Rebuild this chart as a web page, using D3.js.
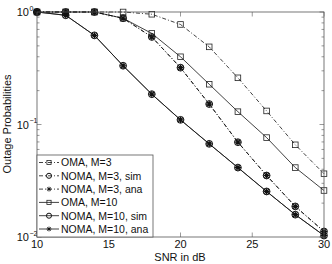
<!DOCTYPE html>
<html>
<head>
<meta charset="utf-8">
<script src="https://cdn.jsdelivr.net/npm/d3@7"></script>
<style>
  body { margin: 0; background: #fff; }
  svg { font-family: "Liberation Sans", Arial, sans-serif; }
</style>
</head>
<body>
<svg id="chart" width="332" height="264"></svg>
<script>
// values
const snr = [10, 12, 14, 16, 18, 20, 22, 24, 26, 28, 30];
const omaM3 = [1, 1, 1, 1, 0.955, 0.775, 0.49, 0.26, 0.132, 0.066, 0.0365];
const nomaM3Sim = [1, 1, 1, 0.88, 0.60, 0.32, 0.152, 0.0696, 0.0352, 0.0187, 0.0112];
const nomaM3Ana = [1, 1, 1, 0.88, 0.60, 0.32, 0.152, 0.0696, 0.0352, 0.0187, 0.0112];
const omaM10 = [1, 1, 1, 0.88, 0.645, 0.40, 0.228, 0.13, 0.0765, 0.0414, 0.0259];
const nomaM10Sim = [1, 0.935, 0.62, 0.333, 0.186, 0.11, 0.0673, 0.0414, 0.0254, 0.0158, 0.0103];
const nomaM10Ana = [1, 0.935, 0.62, 0.333, 0.186, 0.11, 0.0673, 0.0414, 0.0254, 0.0158, 0.0103];

const xTicks = [10, 15, 20, 25, 30];
const yMajor = [1, 0.1, 0.01];
const yExp = ["0", "\u22121", "\u22122"];

const series = [
  {name: "OMA, M=3", vals: omaM3, dash: "4,2,1,2", mark: "square"},
  {name: "NOMA, M=3, sim", vals: nomaM3Sim, dash: "4,2,1,2", mark: "circle"},
  {name: "NOMA, M=3, ana", vals: nomaM3Ana, dash: "4,2,1,2", mark: "star"},
  {name: "OMA, M=10", vals: omaM10, dash: null, mark: "square"},
  {name: "NOMA, M=10, sim", vals: nomaM10Sim, dash: null, mark: "circle"},
  {name: "NOMA, M=10, ana", vals: nomaM10Ana, dash: null, mark: "star"}
];

const svg = d3.select("#chart");
const pL = 37, pR = 324, pT = 12, pB = 237;
const axisColor = "#555";

const x = d3.scaleLinear().domain([10, 30]).range([pL, pR]);
const y = d3.scaleLog().domain([0.01, 1]).range([pB, pT]);

// minor y ticks
const yMinor = [];
[0.01, 0.1].forEach(d => { for (let k = 2; k <= 9; k++) yMinor.push(d * k); });

const ticks = svg.append("g").attr("stroke", axisColor).attr("stroke-width", 0.6);
yMinor.forEach(v => {
  ticks.append("line").attr("x1", pL).attr("x2", pL + 2.5).attr("y1", y(v)).attr("y2", y(v));
  ticks.append("line").attr("x1", pR).attr("x2", pR - 2.5).attr("y1", y(v)).attr("y2", y(v));
});
yMajor.forEach(v => {
  ticks.append("line").attr("x1", pL).attr("x2", pL + 4.5).attr("y1", y(v)).attr("y2", y(v));
  ticks.append("line").attr("x1", pR).attr("x2", pR - 4.5).attr("y1", y(v)).attr("y2", y(v));
});
xTicks.forEach(v => {
  ticks.append("line").attr("x1", x(v)).attr("x2", x(v)).attr("y1", pB).attr("y2", pB - 4.5);
  ticks.append("line").attr("x1", x(v)).attr("x2", x(v)).attr("y1", pT).attr("y2", pT + 4.5);
});

// lines
const line = d3.line().x((d, i) => x(snr[i])).y(d => y(d));
const plot = svg.append("g");
series.forEach(s => {
  plot.append("path")
    .attr("d", line(s.vals))
    .attr("fill", "none")
    .attr("stroke", "#111")
    .attr("stroke-width", 0.8)
    .attr("stroke-dasharray", s.dash);
});

// sc scales the marker (legend uses smaller ones)
const drawMark = (g, kind, cx, cy, sc) => {
  if (kind === "square") {
    const h = 2.8 * sc;
    g.append("rect").attr("x", cx - h).attr("y", cy - h).attr("width", 2 * h).attr("height", 2 * h)
      .attr("fill", "none").attr("stroke", "#222").attr("stroke-width", 0.8);
  } else if (kind === "circle") {
    g.append("circle").attr("cx", cx).attr("cy", cy).attr("r", 3.4 * sc)
      .attr("fill", "none").attr("stroke", "#111").attr("stroke-width", 1);
  } else {
    const r = 3.2 * sc, q = 2.3 * sc;
    g.append("path")
      .attr("d", `M${cx - r},${cy}L${cx + r},${cy}M${cx},${cy - r}L${cx},${cy + r}` +
        `M${cx - q},${cy - q}L${cx + q},${cy + q}M${cx - q},${cy + q}L${cx + q},${cy - q}`)
      .attr("stroke", "#111").attr("stroke-width", 1.2 * sc);
  }
};

series.forEach(s => {
  s.vals.forEach((v, i) => drawMark(plot, s.mark, x(snr[i]), y(v), 1));
});

// axis box
svg.append("rect").attr("x", pL).attr("y", pT).attr("width", pR - pL).attr("height", pB - pT)
  .attr("fill", "none").attr("stroke", axisColor).attr("stroke-width", 0.8);

// tick labels
svg.append("g").selectAll("text").data(xTicks).join("text")
  .attr("x", d => x(d)).attr("y", 248)
  .attr("text-anchor", "middle").attr("font-size", 11).attr("fill", "#111")
  .text(d => d);

const yl = svg.append("g");
yMajor.forEach((v, i) => {
  yl.append("text").attr("x", 29).attr("y", y(v) + 4)
    .attr("text-anchor", "end").attr("font-size", 11).attr("fill", "#111").text("10");
  yl.append("text").attr("x", 29.5).attr("y", y(v) - 1.5)
    .attr("font-size", 7).attr("fill", "#111").text(yExp[i]);
});

svg.append("text").attr("x", 180).attr("y", 261).attr("text-anchor", "middle")
  .attr("font-size", 11).attr("fill", "#111").text("SNR in dB");
svg.append("text").attr("transform", "translate(11,124) rotate(-90)").attr("text-anchor", "middle")
  .attr("font-size", 11).attr("fill", "#111").text("Outage Probabilities");

// legend
const lg = svg.append("g");
lg.append("rect").attr("x", pL).attr("y", 155).attr("width", 116).attr("height", pB - 155)
  .attr("fill", "#fff").attr("stroke", axisColor).attr("stroke-width", 0.8);
series.forEach((s, i) => {
  const ly = 162.5 + i * 13.3;
  lg.append("line").attr("x1", 39).attr("x2", 59).attr("y1", ly).attr("y2", ly)
    .attr("stroke", "#111").attr("stroke-width", 0.8).attr("stroke-dasharray", s.dash);
  drawMark(lg, s.mark, 49, ly, 0.75);
  lg.append("text").attr("x", 61).attr("y", ly + 3.8).attr("font-size", 10.5).attr("fill", "#111").text(s.name);
});
</script>
</body>
</html>
